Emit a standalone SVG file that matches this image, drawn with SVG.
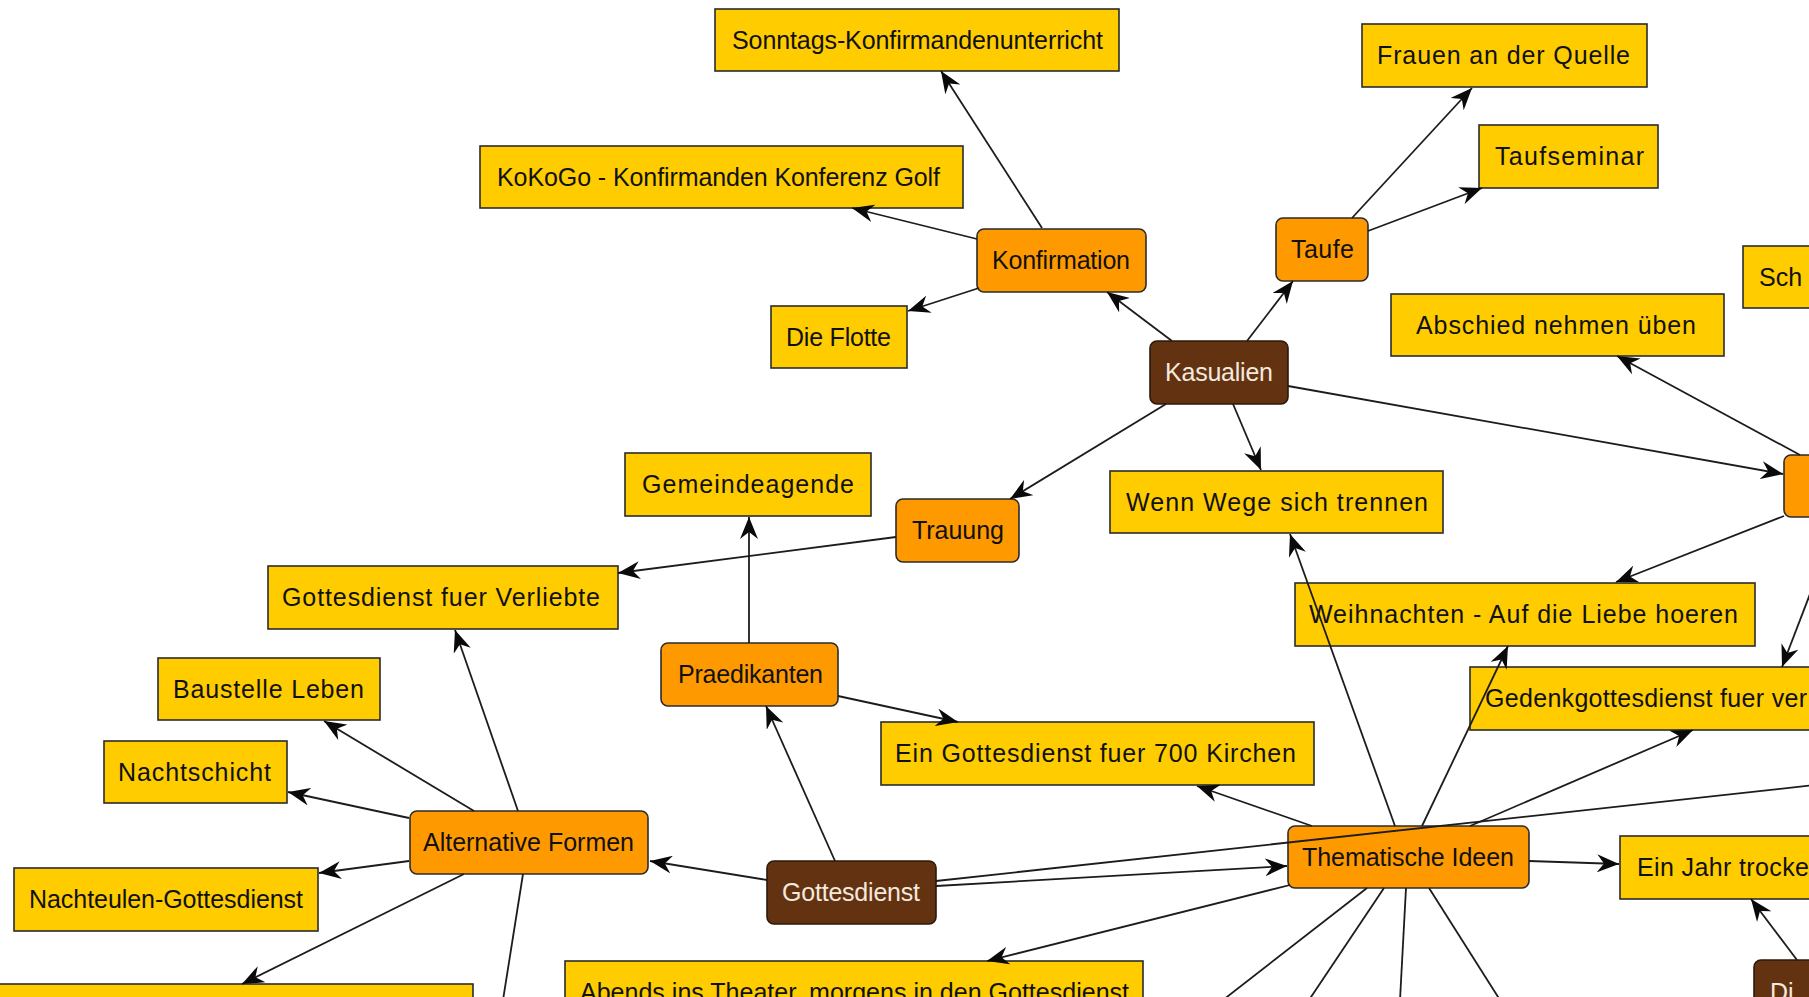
<svg xmlns="http://www.w3.org/2000/svg" width="1809" height="997" viewBox="0 0 1809 997">
<style>
  .leaf rect { fill: #FFCC00; stroke: #2b2b2b; stroke-width: 1.6; }
  .mid rect { fill: #FF9900; stroke: #2b2b2b; stroke-width: 1.6; }
  .root rect { fill: #633210; stroke: #2b1a0a; stroke-width: 1.6; }
  text { font-family: "Liberation Sans", Arial, sans-serif; font-size: 25px; fill: #111; }
  .root text { fill: #f4e9df; }
  #connectors line { stroke: #1c1c1c; stroke-width: 1.8; fill: none; }
  #connectors line.a { marker-end: url(#arrow); }
</style>
<defs>
  <marker id="arrow" viewBox="0 0 22 18" refX="22" refY="9" markerWidth="22" markerHeight="18" markerUnits="userSpaceOnUse" orient="auto">
    <path d="M22,9 L0,0 L7,9 L0,18 Z" fill="#0a0a0a"/>
  </marker>
</defs>
<rect x="0" y="0" width="1809" height="997" fill="#ffffff"/>

<g id="n-sonntags" class="leaf"><rect x="715" y="9" width="404" height="62"/><text x="732" y="49" textLength="371" lengthAdjust="spacing">Sonntags-Konfirmandenunterricht</text></g>
<g id="n-kokogo" class="leaf"><rect x="480" y="146" width="483" height="62"/><text x="497" y="186" textLength="443" lengthAdjust="spacing">KoKoGo - Konfirmanden Konferenz Golf</text></g>
<g id="n-konfirmation" class="mid"><rect x="977" y="229" width="169" height="63" rx="7"/><text x="992" y="269" textLength="138" lengthAdjust="spacing">Konfirmation</text></g>
<g id="n-flotte" class="leaf"><rect x="771" y="306" width="136" height="62"/><text x="786" y="346" textLength="105" lengthAdjust="spacing">Die Flotte</text></g>
<g id="n-frauen" class="leaf"><rect x="1362" y="24" width="285" height="63"/><text x="1377" y="64" textLength="253" lengthAdjust="spacing">Frauen an der Quelle</text></g>
<g id="n-taufseminar" class="leaf"><rect x="1479" y="125" width="179" height="63"/><text x="1495" y="165" textLength="149" lengthAdjust="spacing">Taufseminar</text></g>
<g id="n-taufe" class="mid"><rect x="1276" y="218" width="92" height="63" rx="7"/><text x="1291" y="258" textLength="63" lengthAdjust="spacing">Taufe</text></g>
<g id="n-sch" class="leaf"><rect x="1743" y="246" width="100" height="62"/><text x="1759" y="286">Sch</text></g>
<g id="n-abschied" class="leaf"><rect x="1391" y="294" width="333" height="62"/><text x="1416" y="334" textLength="280" lengthAdjust="spacing">Abschied nehmen üben</text></g>
<g id="n-kasualien" class="root"><rect x="1150" y="341" width="138" height="63" rx="7"/><text x="1165" y="381" textLength="108" lengthAdjust="spacing">Kasualien</text></g>
<g id="n-gemeindeagende" class="leaf"><rect x="625" y="453" width="246" height="63"/><text x="642" y="493" textLength="212" lengthAdjust="spacing">Gemeindeagende</text></g>
<g id="n-trauung" class="mid"><rect x="896" y="499" width="123" height="63" rx="7"/><text x="912" y="539" textLength="92" lengthAdjust="spacing">Trauung</text></g>
<g id="n-wennwege" class="leaf"><rect x="1110" y="471" width="333" height="62"/><text x="1126" y="511" textLength="302" lengthAdjust="spacing">Wenn Wege sich trennen</text></g>
<g id="n-right-orange" class="mid"><rect x="1784" y="455" width="60" height="62" rx="7"/></g>
<g id="n-verliebte" class="leaf"><rect x="268" y="566" width="350" height="63"/><text x="282" y="606" textLength="318" lengthAdjust="spacing">Gottesdienst fuer Verliebte</text></g>
<g id="n-weihnachten" class="leaf"><rect x="1295" y="583" width="460" height="63"/><text x="1309" y="623" textLength="429" lengthAdjust="spacing">Weihnachten - Auf die Liebe hoeren</text></g>
<g id="n-praedikanten" class="mid"><rect x="661" y="643" width="177" height="63" rx="7"/><text x="678" y="683" textLength="145" lengthAdjust="spacing">Praedikanten</text></g>
<g id="n-baustelle" class="leaf"><rect x="158" y="658" width="222" height="62"/><text x="173" y="698" textLength="191" lengthAdjust="spacing">Baustelle Leben</text></g>
<g id="n-gedenk" class="leaf"><rect x="1470" y="667" width="360" height="63"/><text x="1485" y="707" textLength="322" lengthAdjust="spacing">Gedenkgottesdienst fuer ver</text></g>
<g id="n-nachtschicht" class="leaf"><rect x="104" y="741" width="183" height="62"/><text x="118" y="781" textLength="153" lengthAdjust="spacing">Nachtschicht</text></g>
<g id="n-700kirchen" class="leaf"><rect x="881" y="722" width="433" height="63"/><text x="895" y="762" textLength="401" lengthAdjust="spacing">Ein Gottesdienst fuer 700 Kirchen</text></g>
<g id="n-alternative" class="mid"><rect x="410" y="811" width="238" height="63" rx="7"/><text x="423" y="851" textLength="211" lengthAdjust="spacing">Alternative Formen</text></g>
<g id="n-thematische" class="mid"><rect x="1288" y="826" width="241" height="62" rx="7"/><text x="1302" y="866" textLength="212" lengthAdjust="spacing">Thematische Ideen</text></g>
<g id="n-einjahr" class="leaf"><rect x="1620" y="836" width="220" height="63"/><text x="1637" y="876" textLength="172" lengthAdjust="spacing">Ein Jahr trocke</text></g>
<g id="n-nachteulen" class="leaf"><rect x="14" y="868" width="304" height="63"/><text x="29" y="908" textLength="274" lengthAdjust="spacing">Nachteulen-Gottesdienst</text></g>
<g id="n-gottesdienst" class="root"><rect x="767" y="861" width="169" height="63" rx="7"/><text x="782" y="901" textLength="138" lengthAdjust="spacing">Gottesdienst</text></g>
<g id="n-abends" class="leaf"><rect x="565" y="961" width="578" height="62"/><text x="580" y="1001" textLength="549" lengthAdjust="spacing">Abends ins Theater, morgens in den Gottesdienst</text></g>
<g id="n-bottomleft" class="leaf"><rect x="-2" y="984" width="475" height="62"/></g>
<g id="n-di" class="root"><rect x="1754" y="960" width="80" height="62" rx="7"/><text x="1770" y="1001">Di</text></g>

<g id="connectors">
  <line class="a" x1="1042" y1="228" x2="941" y2="71"/>
  <line class="a" x1="977" y1="239" x2="852" y2="208"/>
  <line class="a" x1="979" y1="288" x2="908" y2="311"/>
  <line class="a" x1="1172" y1="341" x2="1107" y2="292"/>
  <line class="a" x1="1247" y1="341" x2="1293" y2="281"/>
  <line class="a" x1="1352" y1="218" x2="1472" y2="88"/>
  <line class="a" x1="1368" y1="231" x2="1482" y2="188"/>
  <line class="a" x1="1288" y1="386" x2="1783" y2="474"/>
  <line class="a" x1="1233" y1="404" x2="1261" y2="470"/>
  <line class="a" x1="1166" y1="404" x2="1010" y2="499"/>
  <line class="a" x1="1800" y1="455" x2="1617" y2="356"/>
  <line class="a" x1="1784" y1="516" x2="1616" y2="582"/>
  <line class="a" x1="1815" y1="581" x2="1782" y2="667"/>
  <line class="a" x1="896" y1="537" x2="618" y2="573"/>
  <line class="a" x1="749" y1="643" x2="749" y2="517"/>
  <line class="a" x1="838" y1="696" x2="958" y2="722"/>
  <line class="a" x1="835" y1="861" x2="766" y2="706"/>
  <line class="a" x1="767" y1="880" x2="650" y2="861"/>
  <line class="a" x1="936" y1="886" x2="1287" y2="866"/>
  <line x1="936" y1="881" x2="1815" y2="785"/>
  <line class="a" x1="1395" y1="826" x2="1290" y2="534"/>
  <line class="a" x1="1422" y1="826" x2="1508" y2="646"/>
  <line class="a" x1="1470" y1="826" x2="1693" y2="730"/>
  <line class="a" x1="1312" y1="826" x2="1197" y2="786"/>
  <line class="a" x1="1529" y1="861" x2="1619" y2="864"/>
  <line class="a" x1="1290" y1="885" x2="987" y2="961"/>
  <line x1="1367" y1="888" x2="1223" y2="1000"/>
  <line x1="1384" y1="888" x2="1309" y2="1000"/>
  <line x1="1406" y1="888" x2="1400" y2="1000"/>
  <line x1="1429" y1="888" x2="1500" y2="1000"/>
  <line class="a" x1="1797" y1="960" x2="1751" y2="899"/>
  <line class="a" x1="518" y1="811" x2="455" y2="630"/>
  <line class="a" x1="474" y1="811" x2="324" y2="721"/>
  <line class="a" x1="409" y1="818" x2="288" y2="792"/>
  <line class="a" x1="409" y1="861" x2="319" y2="873"/>
  <line class="a" x1="464" y1="874" x2="242" y2="984"/>
  <line x1="523" y1="874" x2="503" y2="1000"/>
</g>
</svg>
